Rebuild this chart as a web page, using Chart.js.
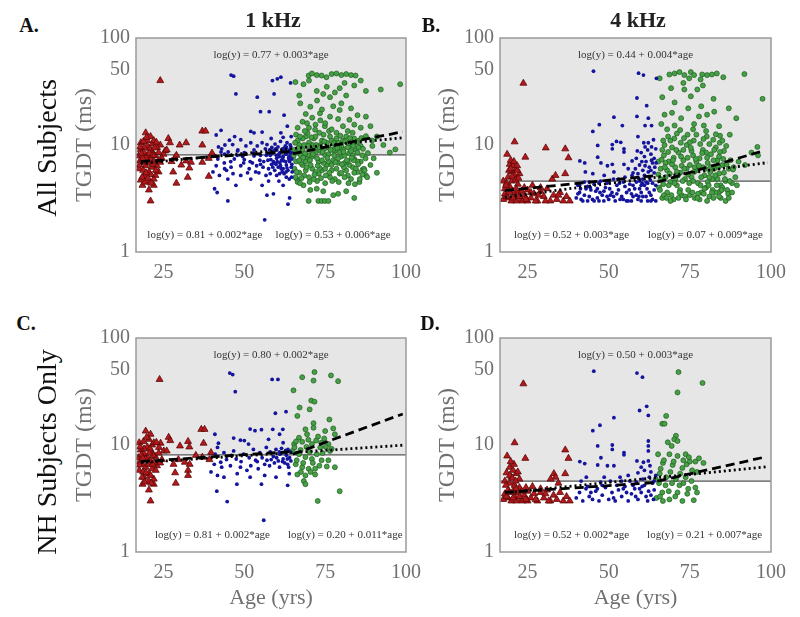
<!DOCTYPE html>
<html>
<head>
<meta charset="utf-8">
<script src="https://cdn.jsdelivr.net/npm/chart.js@4.4.0/dist/chart.umd.min.js"></script>
<style>
  body { margin: 0; background: #fff; width: 800px; height: 617px; overflow: hidden; position: relative; font-family: "Liberation Serif", serif; }
  canvas { position: absolute; }
  .lbl { position: absolute; white-space: nowrap; transform: translate(-50%, -50%); line-height: 1; }
  .letter { font-weight: bold; font-size: 20px; color: #111; }
  .freq { font-weight: bold; font-size: 22px; color: #222; }
  .row { font-size: 28px; color: #111; transform: translate(-50%, -50%) rotate(-90deg); }
</style>
</head>
<body>
<canvas id="chartA" width="380" height="272" style="left:50px;top:20px"></canvas>
<canvas id="chartB" width="375" height="272" style="left:420px;top:20px"></canvas>
<canvas id="chartC" width="380" height="297" style="left:50px;top:320px"></canvas>
<canvas id="chartD" width="375" height="297" style="left:420px;top:320px"></canvas>

<div class="lbl letter" style="left:29px;top:25px">A.</div>
<div class="lbl letter" style="left:431px;top:25px">B.</div>
<div class="lbl letter" style="left:26px;top:323px">C.</div>
<div class="lbl letter" style="left:430px;top:323px">D.</div>
<div class="lbl freq" style="left:273px;top:20px">1 kHz</div>
<div class="lbl freq" style="left:638px;top:20px">4 kHz</div>
<div class="lbl row" style="left:47px;top:148px">All Subjects</div>
<div class="lbl row" style="left:47px;top:452px">NH Subjects Only</div>

<script>
const FONT = '"Liberation Serif", "Times New Roman", serif';
const xTicks = [25, 50, 75, 100];
const yTicks = [1, 10, 50, 100];

// criterion line (ms) for each panel
const thrA = 8.1, thrB = 4.6, thrC = 8.1, thrD = 4.6;

// regression equations printed in each panel: overall, young/middle, old
const eqA = ["log(y) = 0.77 + 0.003*age", "log(y) = 0.81 + 0.002*age", "log(y) = 0.53 + 0.006*age"];
const eqB = ["log(y) = 0.44 + 0.004*age", "log(y) = 0.52 + 0.003*age", "log(y) = 0.07 + 0.009*age"];
const eqC = ["log(y) = 0.80 + 0.002*age", "log(y) = 0.81 + 0.002*age", "log(y) = 0.20 + 0.011*age"];
const eqD = ["log(y) = 0.50 + 0.003*age", "log(y) = 0.52 + 0.002*age", "log(y) = 0.21 + 0.007*age"];

// fit lines [age, TGDT]: dashed young part, dashed old part, dotted overall
const fitA = [[[18, 7.0], [65, 8.7]], [[65, 8.3], [99, 13.3]], [[18, 6.7], [99, 11.7]]];
const fitB = [[[18, 3.75], [65, 5.2]], [[65, 4.5], [98, 8.9]], [[18, 3.25], [99, 6.85]]];
const fitC = [[[18, 7.0], [65, 8.7]], [[65, 8.2], [99, 19.5]], [[18, 6.85], [99, 9.95]]];
const fitD = [[[18, 3.6], [65, 4.47]], [[65, 4.6], [98, 7.7]], [[18, 3.58], [99, 6.27]]];

// ---- panel A: all subjects, 1 kHz ----
const redA = [[24,40],[19.5,13],[21,12],[18,10.5],[20,11],[26.5,11.5],[27,10.5],[30,10],[32,10.5],[37,13.5],[38,13.5],[37,10],[24,10],[23,9.5],[25.5,8.8],[25,8.2],[28.5,7.6],[27.5,7],[32,7.1],[33.5,6.9],[30.5,6.5],[37,6.9],[40,8.4],[39,7.5],[28,5.6],[33,6.1],[32.5,5],[39,5.1],[29,4.4],[18.5,4.2],[20.5,3.8],[22,4.2],[21,3],[22.5,5.2],[23.5,5.6],[18,9.1],[19,8.5],[20,7.9],[21,7.4],[18.5,6.9],[19.5,6.4],[21.5,6.2],[17.5,6],[20.5,5.6],[19,5.2],[22,4.8],[18,4.7],[22.5,7.9],[23.5,8.5],[20,9.8],[21.5,10.2],[17.3,7.9],[20.5,4.5],[23,6.4],[24,6.9],[19.5,7.6],[17.7,7.1],[21.4,8.8],[18.7,5.8],[22,11],[19,9.5],[20.5,6.8],[22,7],[18.2,8.3],[21,5.3],[24.5,7.5],[26,9],[29,8],[17.8,9.6],[18.8,10.8],[19.8,11.8],[20.8,9.2],[21.8,8],[22.8,10.6],[17.6,6.5],[18.6,7.5],[19.6,5.5],[20.6,8.4],[21.6,6.6],[22.6,5.8],[23.6,7.2],[18.4,5],[19.2,4.5],[20.2,4.9],[21.2,4.4],[22.3,9.4]];
const blueA = [[45.9,45],[46.7,44],[47.4,30],[54,28],[55,20.5],[41.3,12.4],[42.8,13.7],[45.4,11.1],[46.4,10.1],[48.9,11.2],[52,13.4],[53,13],[55.5,13.2],[52,10.5],[54,9.8],[57,10.1],[47.9,8.8],[43.9,8.2],[41.8,7.4],[46.9,7.4],[50,7.3],[53,7.9],[41.3,6.4],[43.9,6],[45.9,6.2],[48.9,6.4],[51.5,6],[55,6.6],[42.3,5.2],[44.9,4.8],[47.4,4.2],[40.8,3.9],[41.6,3.6],[44.9,3],[55.5,4.2],[57,3.4],[56.3,2],[40.3,5.6],[48.9,5.2],[52,4.8],[58.7,40],[60.2,41.5],[61.3,43],[59.2,30],[64.3,38],[57.7,20.5],[62.3,19],[63.3,15],[61.3,13],[58,8],[59,7],[60,7.5],[61,8.5],[62,7.8],[63,8.2],[64,7],[63,6.5],[62,6],[61,6.8],[60,9],[59,8.8],[64,9],[63.5,5.8],[62.5,8.8],[61.5,7.2],[60.5,6.2],[64,7.8],[63,9.5],[58.5,9.5],[57,8.4],[56,7],[57.5,6],[55,8],[53,9],[50,8.5],[48,9],[44,10],[60,5.2],[63,5],[62,4.2],[59,3.5],[64,3.2],[63.5,2.8],[64.5,6.2],[64.5,8.5],[63.8,7.3],[62.8,7],[61.8,9.2],[60.8,7.8],[59.8,6.6],[58.8,6.2],[62.3,5.4],[63.2,10.5],[64.2,10],[61.2,10.8],[59.5,10.2],[56.5,9.2],[55.5,10.5],[50.5,9.8],[47,12],[43,9.2],[49.5,7.8],[52.5,6.8],[54.5,5.5],[58,5.4],[64.6,5],[64.7,7.4],[63.7,8.8],[62.7,9.8],[61.7,5.6],[60.7,4.6],[57.3,7.2],[56.7,5.2],[51,5.5],[45,8.6],[42,9.6],[58.3,11.5],[62,11.8],[64.5,12],[58.2,7.3],[58.7,8.4],[59.2,6.8],[59.7,9.2],[60.2,7],[60.7,8.2],[61.2,6.4],[61.7,8.7],[62.2,7.1],[62.7,8.3],[63.2,6.1],[63.7,7.6],[64.2,8.4],[64.7,6.6],[64.4,9.6],[63.4,8.6],[62.4,9.4],[61.4,6],[60.4,9.6],[59.4,5.8],[58.4,6.6],[64.8,5.6],[63.9,4.8],[62.9,5.6],[61.9,7.6],[60.9,5.4],[59.9,8],[57.8,9],[56.8,8],[55.8,6.2],[54.8,7.2],[53.8,6.4],[52.8,8.4],[51.8,7],[49.8,6.8],[47.8,8],[45.8,7],[43.8,6.8],[42.8,8.6],[40.8,8],[44.5,5.8],[46.5,5.4],[53.5,5.6],[57.5,4.6]];
const greenA = [[69.9,44.6],[70.9,46.6],[72.4,45],[73.9,44.6],[75.4,43],[77,46],[78.5,46.6],[80,45],[81.5,46],[83,45],[84.4,44.6],[65.8,38.7],[68.3,37],[72.4,32],[74.4,30],[76.5,28],[78,31],[81.5,29],[87.6,32],[92.2,33],[98.2,37],[67.3,24.5],[70.4,22.8],[73.4,19.8],[76.5,18.4],[79.5,21.2],[82.5,17.2],[87.6,18.4],[69.4,16],[71.9,13.9],[74.9,15],[78.5,13],[83.5,13],[87.6,12.1],[89.6,9.8],[96.7,9.1],[95,8.5],[66.3,4.8],[68.3,4.2],[70.4,3.8],[72.4,3.9],[74.4,3.7],[77.5,3.4],[79,3.5],[81.5,3.7],[84,3.2],[69.9,3],[72.9,3],[73.9,3],[74.9,3],[76,3],[85.6,4.5],[87.6,5.2],[86.6,5.9],[65.5,9],[66,7],[66.5,11],[67,5.5],[67.5,8],[68,6.5],[68.5,10],[69,12],[69.5,7.5],[70,5],[70.5,9],[71,6],[71.5,11.5],[72,8.5],[72.5,4.6],[73,7],[73.5,10],[74,5.8],[74.5,12.5],[75,8],[75.5,6.5],[76,9.5],[76.5,5],[77,11],[77.5,7.2],[78,8.8],[78.5,6],[79,10.5],[79.5,5.4],[80,7.8],[80.5,9.2],[81,6.8],[81.5,12],[82,5.2],[82.5,8.4],[83,10],[83.5,6.2],[84,7.4],[84.5,9],[85,5.6],[85.5,11],[86,7],[86.5,8],[87,6],[88,5],[89,6.5],[65.5,6],[66,12.5],[66.5,4.5],[67,10],[67.5,6.8],[68,9],[68.5,5.2],[69,7],[69.5,13],[70,8],[70.5,6.5],[71,10],[71.5,4.8],[72,12],[72.5,7.5],[73,5.4],[73.5,8.8],[74,11],[74.5,6.8],[75,4.4],[75.5,10.5],[76,7],[76.5,12],[77,5.8],[77.5,9],[78,4.8],[78.5,11.5],[79,6.8],[79.5,8.5],[80,5.5],[80.5,11],[81,8],[81.5,5.8],[82,9.5],[82.5,6.5],[83,4.8],[83.5,8],[84,11.5],[84.5,6],[85,8.5],[86,9.8],[86.5,5.3],[87.5,7.5],[66,8.5],[67,7.2],[68,11.5],[69,5.8],[70,10.5],[71,7.8],[72,5.6],[73,9.5],[74,7.2],[75,6],[76,8.2],[77,6.5],[78,10],[79,7.5],[80,9.8],[81,5],[82,7],[83,8.8],[84,5.5],[85,7],[65.8,5],[67.2,4.4],[68.8,8.3],[70.3,7.2],[71.8,9.3],[73.3,6.1],[74.8,9.2],[76.3,5.5],[77.8,8],[79.3,9.5],[80.8,6.2],[82.3,10.5],[83.8,7.2],[85.3,9.5],[65.2,7.8],[65.7,10.5],[66.2,5.6],[66.7,9.3],[67.2,12],[67.7,4.9],[68.2,7.6],[68.7,13.5],[69.2,6.2],[69.7,9.8],[70.2,4.5],[70.7,11.8],[71.2,8.2],[71.7,5.3],[72.2,10],[72.7,6.4],[73.2,13],[73.7,4.9],[74.2,8.6],[74.7,10.8],[75.2,5.2],[75.7,7.6],[76.2,13.5],[76.7,9],[77.2,4.6],[77.7,10.4],[78.2,6.9],[78.7,9.4],[79.2,4.5],[79.7,12.2],[80.2,6.6],[80.7,8.6],[81.2,10.8],[81.7,7.2],[82.2,4.4],[82.7,11.6],[83.2,7.6],[83.7,9.8],[84.2,4.3],[84.7,10.6],[85.2,6.6],[85.7,4.8],[86.2,11.6],[86.7,9.2],[87.2,5.8],[88.2,8.4],[89.5,11],[90,7.5],[91,5.5],[66.5,14.5],[68,16.5],[70,14.5],[72,15.5],[73.5,17],[75,16],[77,14],[79,17.5],[80.5,15],[82,13.5],[84,15.5],[86,14.5],[69,19.5],[71,18],[74,21.5],[77.5,23],[80,24.5],[72.5,26],[75.5,35],[79.5,34],[83,22],[85,19],[67,29],[70,40],[81,38],[84,36],[86,40],[89,15],[91,12],[93,10]];

// ---- panel B: all subjects, 4 kHz ----
const redB = [[23.7,37.8],[21,10.7],[18.7,8.2],[24.3,7.7],[30.6,9.4],[36.6,9.2],[37.6,7.6],[19.5,6.6],[20.5,6.4],[21.5,6],[20,5.6],[21,5.2],[19,5],[22.5,5.4],[32.6,4.8],[33.6,5.2],[36.6,5.4],[17.5,4.6],[18,3.5],[19,3.2],[20,3],[21,3.3],[22,3.6],[23,3.1],[24,3.4],[25,3.8],[26,3.2],[27,3.5],[28,3],[29,3.7],[30,3.3],[31,3.9],[32,3],[33,3.4],[34,3.1],[35,3.6],[36,3],[37,3.3],[38,3],[24,4],[26.5,4.2],[29,4],[22,4.3],[19.5,4.1],[18,3.9],[20.5,3.7],[17.5,3.1],[23.5,3],[25,3],[21.5,3],[27.5,3],[19.8,7.2],[21.8,5.8],[18.5,4.4],[20.2,4.6],[18.5,3.3],[19.5,3.6],[20.5,3.2],[21.5,3.9],[22.5,3.3],[18.3,4.2],[19.3,5.8],[20.3,5.1],[21.3,4.7],[22.2,4.9],[23.2,3.7],[24.5,3.1],[26,3.6],[30.5,3],[34.5,3.4],[28.5,3.4],[20.8,7],[19.8,6],[21.8,6.4]];
const blueB = [[45.3,49],[51.6,18.2],[47.1,15.5],[45.1,13.4],[54.2,15.2],[46.6,9.9],[51.1,10.1],[52.4,10.8],[53.7,10.6],[51.1,9.2],[54.7,9.2],[54.7,8.6],[41.1,7.1],[42.6,6.8],[46.6,7.7],[47.6,6.8],[49.6,6.4],[51.1,6.6],[54.7,6.6],[57.2,7.1],[42.8,5.6],[45.1,5.4],[48.6,5.2],[51.6,5.6],[59.2,46.9],[60.7,45],[64.7,42],[58.7,27.5],[61.7,23.3],[58.7,18.5],[62.2,17.8],[61.2,15.2],[63.2,15.2],[62.2,10.5],[63.2,9.6],[61.2,9.6],[59,12],[60,8.5],[61,7.8],[62,9],[63,8.2],[64,7.5],[64.5,9.2],[63.5,6.8],[62.5,6.2],[61.5,7],[60.5,5.8],[59.5,6.5],[58.5,7.5],[57.5,5.5],[56,6],[55,5],[53,4.8],[50,4.6],[47,4.4],[44,4.5],[41,4.2],[40,3.2],[41,3.6],[42,3],[43,3.9],[44,3.3],[45,3.1],[46,3.7],[47,3],[48,3.4],[49,4],[50,3.1],[51,3.6],[52,3],[53,3.8],[54,3.3],[55,4.1],[56,3],[57,3.5],[58,3.9],[59,3.1],[60,3.6],[61,4.2],[62,3],[63,3.4],[64,3.8],[64.5,3],[58.5,4.5],[60.5,4.8],[62.5,5],[63.5,4.4],[61.5,3.3],[59.5,3.9],[57.5,4.2],[55.5,3.6],[52.5,4.2],[49.5,3.3],[46.5,3.9],[43.5,4.1],[40.5,3.5],[42.5,3.4],[45.5,3],[48.5,3],[51.5,3.3],[54.5,3.1],[57,3],[60,3],[63,3],[64,5.5],[63,5.8],[62,4.4],[61,5.2],[60,4.2],[59,5.4],[40.5,4.2],[41.5,3.1],[42.5,4.5],[43.5,3],[44.5,3.8],[45.5,4.3],[46.5,3.2],[47.5,4.6],[48.5,3.7],[49.5,4.4],[50.5,3.4],[51.5,4.8],[52.5,3.5],[53.5,3.1],[54.5,4.5],[55.5,3],[56.5,4.3],[57.5,3.3],[58.5,3.4],[59.5,4.6],[60.5,3.3],[61.5,4.5],[62.5,3.6],[63.5,3.1],[64.5,4.2],[64.2,6.2],[63.2,7.2],[62.2,5.6],[61.2,6.4],[60.2,7],[59.2,4.9],[58.2,6],[57.2,5.2],[58.8,8.8],[60.8,10.5],[63.8,11.2],[64.6,6.8],[62.8,4.7],[61.8,3.9],[60.3,4.4],[59.3,3.3],[56.3,3.8],[53.3,4.4],[50.3,3.9],[47.3,3.6],[44.3,4],[41.3,3.9]];
const greenB = [[65.7,42],[68.7,45.6],[70.3,46.6],[71.8,48],[73.3,45],[75.3,48],[76.3,45],[78.8,45.6],[80.3,45],[81.8,45.6],[83.3,46.6],[85.3,43],[91.8,46],[74.8,42],[78.3,41],[69.2,34],[73.3,33],[77.3,33],[75.3,28.5],[70.3,25],[82.3,27],[97.4,27],[89.3,17.8],[67.2,19.2],[72.3,17.8],[77.8,18.5],[80.3,19.2],[66.2,15.7],[70.3,15.2],[76.3,15.7],[79.3,15.2],[84.3,12.2],[87.3,12.5],[95.8,9.6],[65.5,4],[66,6],[66.5,3.2],[67,8],[67.5,5],[68,3.6],[68.5,7],[69,4.5],[69.5,9.5],[70,3.1],[70.5,6.2],[71,4.2],[71.5,8.5],[72,5.5],[72.5,3.4],[73,7.2],[73.5,4.8],[74,10],[74.5,3.8],[75,6.5],[75.5,5],[76,8],[76.5,3.2],[77,5.8],[77.5,4.4],[78,7.5],[78.5,3.6],[79,9],[79.5,5.2],[80,4],[80.5,6.8],[81,3.3],[81.5,8.2],[82,4.8],[82.5,6],[83,3.6],[83.5,7.2],[84,5.4],[84.5,4.2],[85,6.5],[85.5,8.8],[86,4.6],[86.5,3.8],[87,6],[88,4.4],[89,5],[66,4.8],[67,3.4],[68,5.8],[69,3],[70,7.6],[71,5.6],[72,3.8],[73,9],[74,6],[75,3.4],[76,4.6],[77,7],[78,3.1],[79,6.2],[80,8.5],[81,5],[82,3.8],[83,9.5],[84,7.8],[85,4],[66.5,9],[67.5,6.8],[68.5,4.2],[69.5,6.6],[70.5,4.8],[71.5,3.2],[72.5,6.4],[73.5,3.3],[74.5,5.3],[75.5,8.8],[76.5,6.2],[77.5,3.5],[78.5,5],[79.5,3.9],[80.5,4.5],[81.5,6.2],[82.5,9],[83.5,4.8],[84.5,3.2],[85.5,5.5],[65.3,7],[66.8,11],[68.3,12],[70.2,11.5],[72.2,10.5],[74.3,12.5],[76.2,11],[78.2,10.2],[80.2,12],[82.2,11.2],[84.2,10.5],[86.2,9.8],[87.5,7.2],[88.5,6.2],[90,7],[92,6.5],[94,8.5],[96,8],[86,3],[84,3.3],[80.3,3],[82.3,3.2],[84.3,3.7],[86.8,3.5],[88.3,5.9],[87.3,4.6],[65.3,5.3],[65.8,3.8],[66.3,7.3],[66.8,4.3],[67.3,6.2],[67.8,3.2],[68.3,8.6],[68.8,5.4],[69.3,3.4],[69.8,7.2],[70.3,4.4],[70.8,9],[71.3,5.2],[71.8,3.6],[72.3,7.8],[72.8,4.6],[73.3,6],[73.8,3.1],[74.3,7.6],[74.8,4.4],[75.3,9.4],[75.8,3.6],[76.3,5.6],[76.8,7.4],[77.3,3.2],[77.8,6.4],[78.3,4.2],[78.8,8.4],[79.3,3.5],[79.8,6],[80.3,7.6],[80.8,4.2],[81.3,5.6],[81.8,3.6],[82.3,7.2],[82.8,5.2],[83.3,4.2],[83.8,6.2],[84.3,8.6],[84.8,3.8],[85.3,7.4],[85.8,4.8],[86.3,6.6],[87,3.2],[88,3.6],[89.5,4.2],[67.2,10],[69,11],[71,12.8],[73.2,11.6],[75,10.6],[77,12.5],[79.2,11.4],[81,10.2],[83,12.6],[85,11],[68,14],[72,13.8],[76,14],[80,13.5],[84,15],[69.5,20],[74.5,22],[78.5,23],[82.5,20.5],[73,38],[79,36],[66.5,28],[87,22]];

// ---- panel C: NH subjects, 1 kHz ----
const redC = [[23.8,41],[19.5,13.5],[21,12.6],[17.5,10.5],[20.5,11.3],[26.6,11.8],[27.1,11],[30.1,9.8],[32.6,10.8],[33,9.6],[36.7,14],[37.7,14],[37.4,10.4],[24.1,10.4],[23.6,9.5],[25.1,8.8],[29.6,7.3],[28.1,6.6],[31.6,6.9],[33.1,6.6],[39.7,8.5],[39.2,7.3],[28.6,5.5],[32.6,5.8],[32.6,5.2],[28.8,4.4],[18.5,4.3],[20.5,3.8],[22,4.3],[21,3],[18,9],[19,8.3],[20,7.7],[21,7.1],[18.5,6.6],[19.5,6.2],[21.5,6],[17.5,5.8],[20.5,5.4],[19,5],[22,4.8],[22.5,7.8],[23.5,8.4],[20,9.6],[21.5,10],[17.3,7.6],[20.5,4.6],[23,6.4],[24,6.8],[19.5,7.4],[17.7,7],[21.4,8.6],[18.7,5.6],[22,10.5],[19,9.2],[20.5,6.6],[22,6.9],[18.2,8.1],[21,5.2],[24.5,7.3],[26,8.8],[35,8],[37,7.7],[17.8,9.6],[18.8,10.8],[19.8,11.8],[20.8,9.2],[21.8,8],[22.8,10.6],[17.6,6.5],[18.6,7.5],[19.6,5.5],[20.6,8.4],[21.6,6.6],[22.6,5.8],[18.4,5],[19.2,4.5],[21.2,4.4]];
const blueC = [[45.5,47],[46.4,45.5],[47.2,31.5],[58.6,41],[60.4,41],[59.6,19.8],[62.9,20.5],[40.9,12.6],[51.8,14.1],[53.3,13.6],[55.3,13.9],[46.7,11.6],[48.8,11.1],[51.3,10.2],[58.8,14],[61.9,14],[60.9,12.6],[41.7,9.5],[43.7,8.5],[46.7,8.8],[49.8,8.2],[52.8,9.1],[54.8,8.5],[56.8,9.5],[59.8,9.1],[62.4,8.5],[40.7,6.6],[42.7,6.9],[45.7,6.4],[48.8,6.2],[50.8,5.8],[54.3,6],[57.8,6.4],[60.9,6.2],[63.4,6.6],[39.7,5.6],[41.7,5.2],[43.7,5],[47.8,5.4],[51.8,5],[56.3,5.2],[59.8,5],[63.9,5.4],[41.5,3.7],[47.7,4.3],[55.3,4.3],[63.4,4.2],[44.7,2.96],[56,1.98],[60,7.6],[61,8.2],[62,7.4],[63,8],[64,7.6],[61.5,9.3],[62.5,6.8],[63.5,9.1],[60.5,7.1],[59,7.8],[58,8.6],[57,7.2],[55.5,7.6],[53.5,7.2],[51.5,7.6],[47.5,7.4],[44.5,7.3],[42,10.4],[50,11],[57.5,11.3],[62,10.5],[64.2,8.6],[63.7,6.2],[61.8,7],[62.8,8.9],[63.3,7.4],[64.4,7.1],[60.8,8.6],[59.3,6.8],[58.3,7.3],[56.3,6.6],[54,7],[52,6.4],[49,7],[46,8],[43,6.2],[41,8.2]];
const greenC = [[67.9,43],[71.7,48],[71.4,40],[76.8,44.7],[79,39.5],[65.2,32.4],[70.7,26],[71.7,25.4],[67.1,22.4],[66.4,18.7],[70.2,21.5],[68.9,14],[71.4,14.5],[71.4,16],[76.3,17.3],[75,13.5],[77.5,14.3],[78,12.6],[69.4,12.6],[66.9,11.7],[65.4,10.2],[67.9,10.7],[70.9,10.2],[73.5,9.5],[76,10.2],[76.5,8.8],[64.9,8.8],[66.9,8.2],[68.9,7.7],[70.9,7.4],[72.4,8.2],[73.9,7.2],[65.9,6.6],[67.9,6.2],[69.9,6],[71.9,6],[76,7.2],[78,6.2],[66.4,5.3],[68.9,5.2],[71.9,5.3],[68.4,4.6],[68.9,4.3],[79.5,3.7],[72.7,3],[65.5,9.5],[66.2,7.2],[67.4,9],[68.2,6.8],[69.2,9.6],[70.2,8.6],[71.2,6.8],[72.2,11],[73.2,6.4],[74.2,8.4],[75.2,9.6],[74.7,11.5],[72.8,12],[70.5,5.6],[67.5,5.6],[66,10.8],[69.8,11.2],[73.8,10.5],[77,9.2],[75.5,6.3]];

// ---- panel D: NH subjects, 4 kHz ----
const redD = [[23.7,37.3],[21,10.5],[18.7,7.9],[24.3,7.5],[36.6,9],[37.6,7.5],[19.5,6.2],[20.5,5.8],[21.5,5.4],[20,5],[22.5,4.8],[33.1,5.4],[33.6,5],[36.6,5.4],[32.1,4.8],[18,4.6],[19.5,4.4],[21,4.2],[22.5,4],[18,3.5],[19,3.2],[20,3],[21,3.3],[22,3.6],[23,3.1],[24,3.4],[25,3.7],[26,3.2],[27,3.5],[28,3],[29,3.6],[30,3.2],[31,3.8],[32,3],[33,3.4],[34,3.1],[35,3.6],[36,3],[37,3.3],[38,3],[24.5,4],[26.5,4.1],[29,3.9],[20.5,3.7],[17.5,3.1],[23.5,3],[25,3],[21.5,3],[19,3.8],[18.5,5.5],[19.5,5.2],[22,5.6],[20.8,6.6],[19.8,7],[34.5,4.4],[31.5,3],[18.5,3.3],[19.5,3.6],[20.5,3.2],[21.5,3.9],[22.5,3.3],[18.3,4.2],[20.3,4.9],[21.3,4.6],[23.2,3.7],[24.5,3.1],[27.5,3.1],[30.5,3.5]];
const blueD = [[45.4,49],[58.7,47],[60.4,43],[61.7,23],[59.5,21],[62.2,18.9],[51.6,18],[47.3,15.3],[45.1,13.6],[46.6,9.8],[51.1,10],[51.1,9.1],[54.7,8.5],[54.7,8.1],[62.2,10.9],[62.2,9.8],[62.2,8.8],[41.1,7],[42.6,6.7],[46.6,6.5],[47.6,7.6],[49.6,6.4],[51.6,6.4],[58.7,7.1],[60.7,6.9],[62.2,7.1],[62.7,6.4],[43.1,5],[48.6,5],[40,3.2],[41,3.6],[42,3],[43,3.9],[44,3.3],[45,3.1],[46,3.7],[47,3],[48,3.4],[49,4],[50,3.1],[51,3.6],[52,3],[53,3.8],[54,3.3],[55,4.1],[56,3],[57,3.5],[58,3.9],[59,3.1],[60,3.6],[61,4.2],[62,3],[63,3.4],[64,3.8],[58.5,4.5],[60.5,4.8],[62.5,5],[63.5,4.4],[61.5,3.3],[59.5,3.9],[57.5,4.2],[55.5,3.6],[52.5,4.2],[46.5,3.9],[43.5,4.1],[41.5,4.6],[50.5,4.6],[53.5,5],[56,5.2],[59,5.5],[61,5.8],[63,5.6],[64,4.6],[60,6.2],[56.5,4.6],[54,4.6],[48,4.2],[44.5,3.6],[47.5,4.5],[51.5,3.2],[54.5,3.9],[58.3,3.3],[60.3,4.1],[62.3,3.7],[63.8,3.1],[64.5,5.2]];
const greenD = [[71.5,48],[78.9,38],[71.2,31],[66.5,15.8],[67.2,15.8],[67.7,18.7],[70.7,12.2],[70.2,11.3],[71.2,10.9],[68.2,10.6],[69.4,9.8],[65.2,8.2],[68.7,8.2],[71.2,7.9],[73.7,8.2],[74.7,7.7],[76.7,7],[79.2,6.8],[66.7,6.8],[69.7,6.5],[72.7,6.1],[75.7,5.8],[77.2,5.6],[65.7,5.4],[67.7,5],[70.7,4.8],[73.7,5],[76.7,4],[77.2,3.6],[76.2,3.05],[74.2,3.5],[64.7,3.2],[66.7,3],[68.7,3.1],[71.2,3.6],[72.7,3],[65.5,4.4],[66.5,3.6],[67.5,4.2],[68.5,3.7],[69.5,4.4],[70.5,3.3],[71.8,4.2],[73,4.4],[74.5,3.9],[75.5,4.6],[69,5.6],[72,5.4],[74,6.6],[77.8,7.5],[75,7],[73,7.2],[70,7],[66,6],[67,7.2],[64.5,4.8],[65.8,3.3]];

function pts(arr) {
    return arr.map(p => ({ x: p[0], y: p[1] }));
}

// shaded region above the criterion, frame and equations
function makeDecor(p) {
    return {
        id: "decor",
        beforeDatasetsDraw(chart) {
            const { ctx, chartArea: a, scales } = chart;
            const yT = scales.y.getPixelForValue(p.thr);
            ctx.save();
            ctx.fillStyle = "#e6e6e6";
            ctx.fillRect(a.left, a.top, a.right - a.left, yT - a.top);
            ctx.restore();
        },
        afterDatasetsDraw(chart) {
            const { ctx, chartArea: a } = chart;
            const w = a.right - a.left;
            ctx.save();
            ctx.strokeStyle = "#9a9a9a";
            ctx.lineWidth = 1.5;
            ctx.strokeRect(a.left, a.top, w, a.bottom - a.top);
            ctx.font = "11px " + FONT;
            ctx.fillStyle = "#333";
            ctx.textAlign = "center";
            ctx.textBaseline = "middle";
            ctx.fillText(p.eqs[0], a.left + w * 0.5, a.top + 17);
            ctx.fillText(p.eqs[1], a.left + w * p.eqX[0], a.bottom - 17);
            ctx.fillText(p.eqs[2], a.left + w * p.eqX[1], a.bottom - 17);
            ctx.restore();
        }
    };
}

function makePanel(p) {
    const ctx = document.getElementById(p.id);
    const lineStyle = { showLine: true, borderColor: "#000", borderWidth: 2.8, pointRadius: 0, order: 0 };
    new Chart(ctx, {
        type: "scatter",
        data: {
            datasets: [
                { ...lineStyle, data: pts(p.fit[0]), borderDash: [9, 5] },
                { ...lineStyle, data: pts(p.fit[1]), borderDash: [9, 5] },
                { ...lineStyle, data: pts(p.fit[2]), borderDash: [2, 3] },
                { data: pts(p.red), pointStyle: "triangle", pointRadius: 4, backgroundColor: "#b3191c", borderColor: "#5c0808", borderWidth: 0.8, order: 1 },
                { data: pts(p.blue), pointRadius: 1.9, backgroundColor: "#14149e", borderWidth: 0, order: 1 },
                { data: pts(p.green), pointRadius: 2.5, backgroundColor: "#46a046", borderColor: "#1f5c1f", borderWidth: 0.7, order: 1 },
                { data: [{ x: 16.5, y: p.thr }, { x: 100, y: p.thr }], showLine: true, borderColor: "#555", borderWidth: 1.2, pointRadius: 0, order: 2 }
            ]
        },
        options: {
            responsive: false,
            animation: false,
            events: [],
            layout: { padding: { left: 0, top: p.padTop, right: p.padRight, bottom: 0 } },
            plugins: { legend: { display: false }, tooltip: { enabled: false } },
            scales: {
                x: {
                    type: "linear",
                    min: 16.5,
                    max: 100,
                    afterBuildTicks: s => { s.ticks = xTicks.map(v => ({ value: v })); },
                    afterFit: s => { s.height = p.xh; },
                    grid: { display: false, drawTicks: false },
                    border: { display: false },
                    ticks: { color: "#707070", font: { family: FONT, size: 20 }, padding: 9, maxRotation: 0, autoSkip: false },
                    title: { display: p.xTitle, text: "Age (yrs)", color: "#707070", font: { family: FONT, size: 22 }, padding: { top: 0, bottom: 6 } }
                },
                y: {
                    type: "logarithmic",
                    min: 1,
                    max: 100,
                    afterBuildTicks: s => { s.ticks = yTicks.map(v => ({ value: v })); },
                    afterFit: s => { s.width = p.yw; },
                    grid: { display: false, drawTicks: false },
                    border: { display: false },
                    ticks: { color: "#707070", font: { family: FONT, size: 20 }, padding: 6, autoSkip: false, callback: v => String(v) },
                    title: { display: true, text: "TGDT (ms)", color: "#707070", font: { family: FONT, size: 24 }, padding: { top: p.yTitlePad, bottom: 0 } }
                }
            }
        },
        plugins: [makeDecor(p)]
    });
}

document.addEventListener("DOMContentLoaded", () => {
    makePanel({ id: "chartA", red: redA, blue: blueA, green: greenA, fit: fitA, thr: thrA, eqs: eqA, eqX: [0.255, 0.73], padTop: 14, padRight: 19, yw: 86, xh: 40, yTitlePad: 20.6, xTitle: false });
    makePanel({ id: "chartB", red: redB, blue: blueB, green: greenB, fit: fitB, thr: thrB, eqs: eqB, eqX: [0.264, 0.758], padTop: 16, padRight: 18, yw: 80, xh: 40, yTitlePad: 13.6, xTitle: false });
    makePanel({ id: "chartC", red: redC, blue: blueC, green: greenC, fit: fitC, thr: thrC, eqs: eqC, eqX: [0.283, 0.775], padTop: 17, padRight: 18, yw: 86, xh: 65, yTitlePad: 20.6, xTitle: true });
    makePanel({ id: "chartD", red: redD, blue: blueD, green: greenD, fit: fitD, thr: thrD, eqs: eqD, eqX: [0.264, 0.755], padTop: 17, padRight: 18, yw: 80, xh: 65, yTitlePad: 13.6, xTitle: true });
});
</script>
</body>
</html>
